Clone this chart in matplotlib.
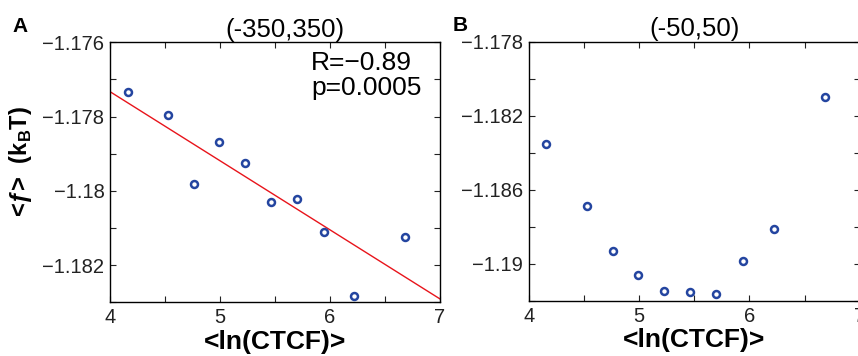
import matplotlib
matplotlib.use("Agg")
import matplotlib.pyplot as plt
import numpy as np

plt.rcParams['font.family'] = ['Liberation Sans', 'DejaVu Sans']
plt.rcParams['mathtext.fontset'] = 'custom'
plt.rcParams['mathtext.rm'] = 'Liberation Sans:bold'
plt.rcParams['mathtext.bf'] = 'Liberation Sans:bold'

# mean ln(CTCF) per bin (same for both panels)
ln_ctcf = [4.16, 4.525, 4.767, 4.994, 5.226, 5.466, 5.702, 5.943, 6.222, 6.684]

# mean free energy, window (-350,350)
f_350 = [-1.17733, -1.17797, -1.17982, -1.17868, -1.17925,
         -1.18031, -1.18022, -1.18111, -1.18283, -1.18123]
# mean free energy, window (-50,50)
f_50 = [-1.18350, -1.18686, -1.18931, -1.19061, -1.19146,
        -1.19151, -1.19160, -1.18982, -1.18809, -1.18101]

titles = ['(-350,350)', '(-50,50)']
stats_text = 'R=\u22120.89\np=0.0005'

blue = '#2445a0'
fig = plt.figure(figsize=(8.58, 3.56), dpi=100)
axA = fig.add_axes([0.1282, 0.1508, 0.3846, 0.7304])
axB = fig.add_axes([0.6162, 0.1545, 0.3858, 0.7284])


def style(ax, ylim, yticks, labelled):
    ax.set_xlim(4, 7)
    ax.set_ylim(*ylim)
    ax.set_xticks(np.arange(4, 7.01, 0.5))
    ax.set_xticklabels(['4', '', '5', '', '6', '', '7'])
    ax.set_yticks(yticks)
    ax.set_yticklabels([('%g' % v).replace('-', '\u2212') if v in labelled else ''
                        for v in np.round(yticks, 3)])
    ax.tick_params(direction='in', top=True, right=True, length=4,
                   labelsize=14.5, width=0.8, colors='#222222', pad=4)
    for s in ax.spines.values():
        s.set_linewidth(1.0)
    ax.set_xlabel('<ln(CTCF)>', fontsize=19, fontweight='bold', labelpad=2)


# panel A
x = np.array(ln_ctcf)
k, b = np.polyfit(x, f_350, 1)
xx = np.array([4, 7])
axA.plot(xx, k * xx + b, color='#e8141b', lw=1.0)
axA.plot(x, f_350, 'o', mfc='none', mec=blue, ms=5, mew=1.8)
yt = np.round(np.arange(-1.183, -1.1759, 0.001), 3)
style(axA, (-1.183, -1.176), yt, [-1.176, -1.178, -1.18, -1.182])
axA.set_title(titles[0], fontsize=18.5, pad=4, x=0.53)
axA.text(0.61, 0.965, stats_text, transform=axA.transAxes, fontsize=19,
         va='top', ha='left', linespacing=1.05)

# panel B
axB.plot(x, f_50, 'o', mfc='none', mec=blue, ms=5, mew=1.8)
yt = np.round(np.arange(-1.192, -1.1779, 0.002), 3)
style(axB, (-1.192, -1.178), yt, [-1.178, -1.182, -1.186, -1.19])
axB.set_title(titles[1], fontsize=18.5, pad=4)

fig.text(21 / 858, 1 - 162 / 356, '<\u0192>  (k$_\\mathrm{B}$T)', rotation=90,
         ha='center', va='center', fontsize=17, fontweight='bold')
fig.text(12 / 858, 1 - 32 / 356, 'A', fontsize=15, fontweight='bold')
fig.text(453 / 858, 1 - 31 / 356, 'B', fontsize=15, fontweight='bold')

fig.savefig('out.png', dpi=100)
